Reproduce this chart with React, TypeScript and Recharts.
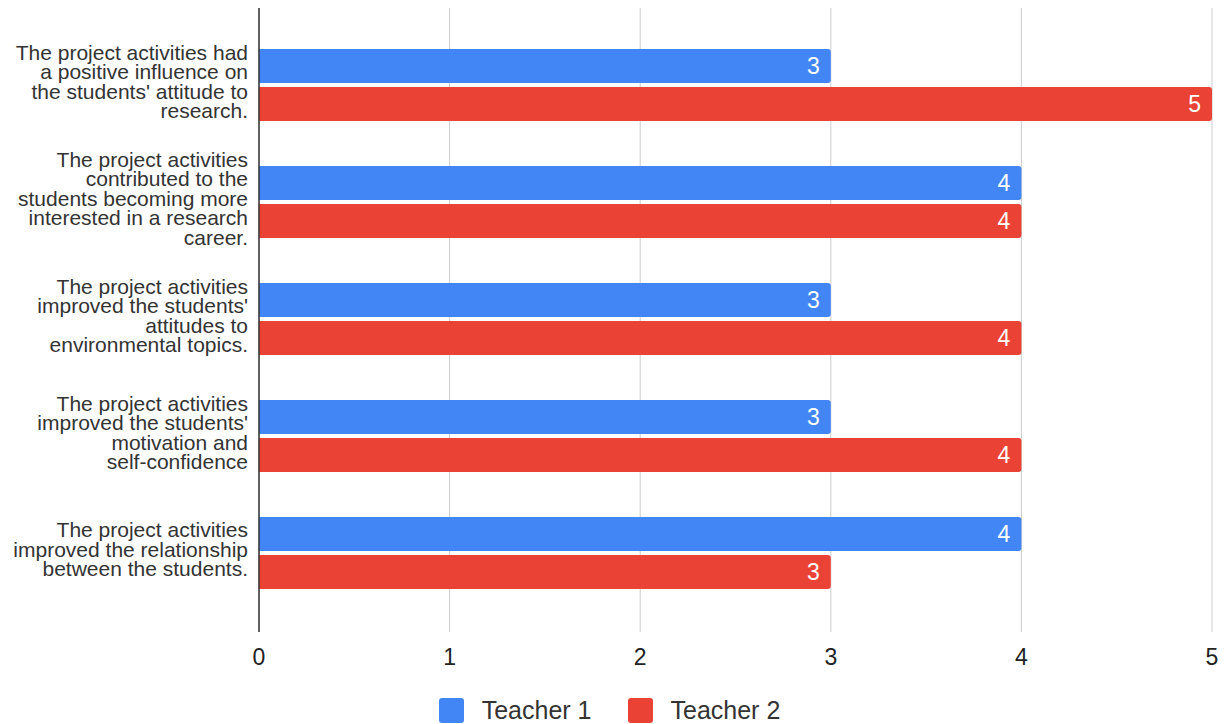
import React from 'react';
import {
  BarChart,
  Bar,
  XAxis,
  YAxis,
  CartesianGrid,
  Legend,
  LabelList,
} from 'recharts';

// statements (line breaks as they wrap in the original chart)
const questions = [
  "The project activities had\na positive influence on\nthe students' attitude to\nresearch.",
  'The project activities\ncontributed to the\nstudents becoming more\ninterested in a research\ncareer.',
  "The project activities\nimproved the students'\nattitudes to\nenvironmental topics.",
  "The project activities\nimproved the students'\nmotivation and\nself-confidence",
  'The project activities\nimproved the relationship\nbetween the students.',
];

const teacher1 = [3, 4, 3, 3, 4];
const teacher2 = [5, 4, 4, 4, 3];

const xTicks = [0, 1, 2, 3, 4, 5];

const series = [
  { key: 'teacher1', name: 'Teacher 1', color: '#4285F4' },
  { key: 'teacher2', name: 'Teacher 2', color: '#EA4335' },
];

const data = questions.map((q, i) => ({
  q,
  teacher1: teacher1[i],
  teacher2: teacher2[i],
}));

const FONT = 'Arial, "Liberation Sans", sans-serif';

const QuestionTick = ({ x, y, payload }: any) => {
  const lines = String(payload.value).split('\n');
  const lh = 19.5;
  return (
    <g>
      {lines.map((line, i) => (
        <text
          key={i}
          x={x}
          y={y - 3 + (i - (lines.length - 1) / 2) * lh}
          dy="0.35em"
          textAnchor="end"
          fill="#333"
          fontSize={21}
          fontFamily={FONT}
        >
          {line}
        </text>
      ))}
    </g>
  );
};

const renderLegend = () => (
  <div
    style={{
      display: 'flex',
      justifyContent: 'center',
      alignItems: 'center',
      height: 40,
      paddingTop: 12,
      boxSizing: 'border-box',
      fontFamily: FONT,
    }}
  >
    {series.map((s, i) => (
      <div
        key={s.key}
        style={{ display: 'flex', alignItems: 'center', marginLeft: i ? 36 : 0 }}
      >
        <span
          style={{
            width: 25,
            height: 25,
            borderRadius: 3,
            background: s.color,
            display: 'inline-block',
            marginRight: 18,
          }}
        />
        <span style={{ fontSize: 25, color: '#333', lineHeight: '25px' }}>{s.name}</span>
      </div>
    ))}
  </div>
);

export default function App() {
  return (
    <div style={{ position: 'absolute', left: 0, top: 0, background: '#fff' }}>
      <BarChart
        width={1226}
        height={724}
        data={data}
        layout="vertical"
        margin={{ top: 8, right: 14, left: 0, bottom: 0 }}
        barSize={34}
        barGap={4}
      >
        <CartesianGrid horizontal={false} stroke="#ccc" strokeWidth={1} />
        <XAxis
          type="number"
          domain={[0, 5]}
          ticks={xTicks}
          axisLine={false}
          tickLine={false}
          tickMargin={11}
          height={52}
          tick={{ fill: '#222', fontSize: 23, fontFamily: FONT }}
        />
        <YAxis
          type="category"
          dataKey="q"
          width={259}
          padding={{ top: 18, bottom: 21 }}
          axisLine={{ stroke: '#333', strokeWidth: 1.5 }}
          tickLine={false}
          tickMargin={5}
          interval={0}
          tick={<QuestionTick />}
        />
        <Legend
          verticalAlign="bottom"
          content={renderLegend}
          wrapperStyle={{ left: 0, width: 1219 }}
        />
        {series.map((s) => (
          <Bar
            key={s.key}
            dataKey={s.key}
            name={s.name}
            fill={s.color}
            radius={[0, 3, 3, 0]}
            isAnimationActive={false}
          >
            <LabelList
              dataKey={s.key}
              position="insideRight"
              offset={11}
              fill="#fff"
              fontSize={23}
              fontFamily={FONT}
            />
          </Bar>
        ))}
      </BarChart>
    </div>
  );
}
